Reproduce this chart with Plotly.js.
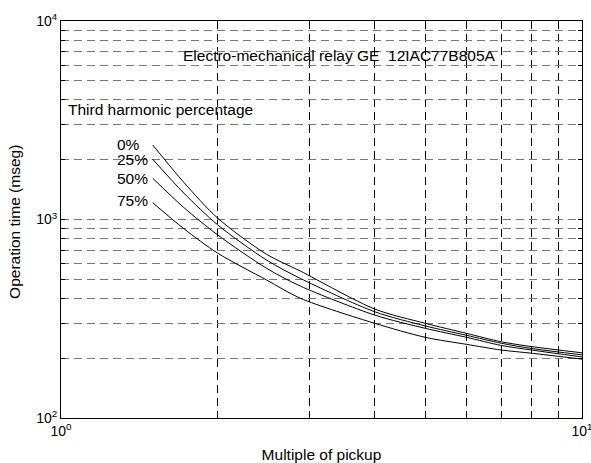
<!DOCTYPE html>
<html>
<head>
<meta charset="utf-8">
<script src="https://cdn.plot.ly/plotly-3.0.1.min.js"></script>
<style>html,body{margin:0;padding:0;background:#fff;}#chart{width:591px;height:463px;}</style>
</head>
<body>
<div id="chart"></div>
<script>
// Data
const multiple = [1.5, 1.72, 2, 2.48, 2.88, 4, 5, 6, 7, 8, 10];
const time0  = [2374, 1540, 1014, 668, 550, 354, 300, 267, 242, 229, 213];
const time25 = [2010, 1360, 938, 625, 505, 343, 291, 261, 238, 224, 208];
const time50 = [1613, 1150, 835, 568, 462, 330, 283, 255, 232, 220, 203];
const time75 = [1215, 900, 676, 496, 401, 300, 255, 235, 220, 212, 198];
const seriesNames = ['0%', '25%', '50%', '75%'];

const xTickVals = [1, 2, 3, 4, 5, 6, 7, 8, 9, 10];
const xTickText = ['10<sup>0</sup>', '', '', '', '', '', '', '', '', '10<sup>1</sup>'];
const yTickVals = [100, 200, 300, 400, 500, 600, 700, 800, 900, 1000, 2000, 3000, 4000, 5000, 6000, 7000, 8000, 9000, 10000];
const yTickText = ['10<sup>2</sup>', '', '', '', '', '', '', '', '', '10<sup>3</sup>', '', '', '', '', '', '', '', '', '10<sup>4</sup>'];

const font = 'Liberation Sans, Arial, Helvetica, sans-serif';
const allY = [time0, time25, time50, time75];

const traces = allY.map((ys, i) => ({
  x: multiple, y: ys, name: seriesNames[i], type: 'scatter', mode: 'lines',
  line: {color: '#000', width: 1, shape: 'spline', smoothing: 0.8},
  hoverinfo: 'x+y+name'
}));

// label positions (paper fractions)
const labelPX = [0.155, 0.171, 0.171, 0.171];
const labelPY = [0.690, 0.652, 0.6045, 0.5466];
const annotations = seriesNames.map((s, i) => ({
  x: labelPX[i], y: labelPY[i], xref: 'paper', yref: 'paper',
  text: s, showarrow: false, xanchor: 'right', yanchor: 'middle',
  font: {family: font, size: 15.5, color: '#000'}
}));
annotations.push({
  x: 0.5355, y: 0.912, xref: 'paper', yref: 'paper',
  text: 'Electro-mechanical relay GE  12IAC77B805A', showarrow: false,
  xanchor: 'center', yanchor: 'middle',
  font: {family: font, size: 15.5, color: '#000'}
});
annotations.push({
  x: 0.009, y: 0.778, xref: 'paper', yref: 'paper',
  text: 'Third harmonic percentage', showarrow: false,
  xanchor: 'left', yanchor: 'middle',
  font: {family: font, size: 15.5, color: '#000'}
});
// y-axis title
annotations.push({
  x: -0.0883, y: 0.494, xref: 'paper', yref: 'paper',
  text: 'Operation time (mseg)', showarrow: false, textangle: -90,
  xanchor: 'center', yanchor: 'middle',
  font: {family: font, size: 15.5, color: '#000'}
});

const layout = {
  width: 591, height: 463,
  margin: {l: 61, r: 9, t: 21, b: 45},
  paper_bgcolor: '#fff', plot_bgcolor: '#fff',
  showlegend: false,
  font: {family: font, size: 12, color: '#000'},
  xaxis: {
    type: 'log', range: [0, 1],
    tickmode: 'array', tickvals: xTickVals, ticktext: xTickText,
    ticklabeloverflow: 'allow',
    showgrid: true, gridcolor: '#000', gridwidth: 1, griddash: '8px,5px',
    showline: true, linecolor: '#000', linewidth: 1, mirror: 'allticks',
    ticks: 'inside', ticklen: 4, tickcolor: '#000',
    zeroline: false,
    tickfont: {family: font, size: 14, color: '#000'},
    title: {text: 'Multiple of pickup', font: {family: font, size: 15.5, color: '#000'}, standoff: 12}
  },
  yaxis: {
    type: 'log', range: [2, 4],
    tickmode: 'array', tickvals: yTickVals, ticktext: yTickText,
    ticklabeloverflow: 'allow',
    showgrid: true, gridcolor: '#777', gridwidth: 1, griddash: '8px,5px',
    showline: true, linecolor: '#000', linewidth: 1, mirror: 'allticks',
    ticks: 'inside', ticklen: 4, tickcolor: '#000',
    zeroline: false,
    tickfont: {family: font, size: 14, color: '#000'}
  },
  annotations: annotations
};

Plotly.newPlot('chart', traces, layout, {displayModeBar: false, staticPlot: true});
</script>
</body>
</html>
